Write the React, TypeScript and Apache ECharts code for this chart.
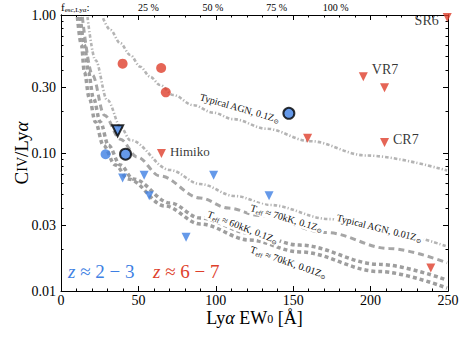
import React, { useEffect, useRef } from 'react';
import * as echarts from 'echarts';

// ---- axis ticks / labels ----
const xMajorTicks = [0, 50, 100, 150, 200, 250];
const yTickLabels = [0.01, 0.03, 0.1, 0.3, 1];
const yMinorTicks = [0.02, 0.04, 0.05, 0.06, 0.07, 0.08, 0.09, 0.2, 0.4, 0.5, 0.6, 0.7, 0.8, 0.9];
const fescLabels = ['25 %', '50 %', '75 %', '100 %'];
const fescEW = [56.5, 98.1, 139.3, 177.5];

// ---- z ~ 6-7 ----
const highzDet = [[39.8, 0.444], [64.7, 0.413], [67.7, 0.275]];
const highzLimNames = ['SR6', 'VR7', '', '', 'CR7', 'Himiko', ''];
const highzLim = [[249.5, 0.96], [195.3, 0.357], [209, 0.297], [159.3, 0.128], [209, 0.119], [64.9, 0.099], [238.9, 0.0147]];

// ---- z ~ 2-3 ----
const lowzDet = [[28.8, 0.098]];
const lowzDetOutlined = [[41.7, 0.098], [147.2, 0.194]];
const lowzLimOutlined = [[36.6, 0.145]];
const lowzLim = [[39.8, 0.066], [53.7, 0.069], [57, 0.049], [98.6, 0.069], [134.4, 0.049], [80.8, 0.0245]];

// ---- model curves ----
const agn01 = [[27.2, 0.946], [31.9, 0.779], [38.3, 0.624], [44.7, 0.513], [51.2, 0.422], [57.6, 0.357], [64.0, 0.311], [72.6, 0.263], [85.5, 0.222], [98.3, 0.196], [111.2, 0.176], [132.7, 0.150], [160.6, 0.122], [197.0, 0.096], [249.4, 0.0747]];
const agn001 = [[17.1, 0.967], [22.2, 0.472], [29.9, 0.242], [38.9, 0.152], [44.7, 0.124], [70.5, 0.0753], [89.8, 0.0596], [112.3, 0.0488], [134.8, 0.042], [173.4, 0.0332], [212.0, 0.0263], [249.4, 0.021]];
const t70z01 = [[13.8, 0.967], [20.3, 0.367], [28.0, 0.188], [38.3, 0.126], [49.2, 0.0935], [64.0, 0.0681], [89.8, 0.0472], [108.1, 0.0399], [128.4, 0.0352], [171.5, 0.0265], [212.0, 0.0203], [249.4, 0.016]];
const t60z01 = [[12.5, 0.967], [15.1, 0.606], [17.7, 0.386], [20.9, 0.25], [25.4, 0.168], [30.6, 0.114], [38.3, 0.0819], [46.7, 0.0648], [70.5, 0.0434], [89.8, 0.0338], [121.9, 0.0263], [154.1, 0.0215], [205.6, 0.0156], [249.4, 0.012]];
const t70z001 = [[10.6, 0.967], [13.2, 0.606], [15.1, 0.386], [18.3, 0.25], [22.2, 0.168], [27.3, 0.114], [35.1, 0.0819], [43.4, 0.0648], [67.2, 0.0413], [89.8, 0.0306], [121.9, 0.0234], [154.1, 0.0192], [205.6, 0.01384], [249.4, 0.0105]];

// ---- curve annotations (anchor in data coords, angle in degrees) ----
const curveNotes = [
  { text: '{t|Typical AGN, 0.1Z}{s|⊙}', at: [115.5, 0.212], angle: -16, bg: false },
  { text: '{t|Typical AGN, 0.01Z}{s|⊙}', at: [205.6, 0.0286], angle: -14, bg: true },
  { text: '{t|T}{s|eff}{t| ≈ 70kK, 0.1Z}{s|⊙}', at: [145.8, 0.0338], angle: -16.5, bg: true },
  { text: '{t|T}{s|eff}{t| ≈ 60kK, 0.1Z}{s|⊙}', at: [117.4, 0.0291], angle: -21, bg: true },
  { text: '{t|T}{s|eff}{t| ≈ 70kK, 0.01Z}{s|⊙}', at: [147.0, 0.0162], angle: -19, bg: false },
];

const RED = '#de3f2c';
const BLUE = '#3e7fe3';
const SERIF = '"Liberation Serif", "DejaVu Serif", serif';

export default function App() {
  const ref = useRef<HTMLDivElement>(null);
  useEffect(() => {
    if (!ref.current) return;
    const chart = echarts.init(ref.current, undefined, { renderer: 'svg' });
    const xAxisCommon = {
      type: 'value', min: 0, max: 250, interval: 50,
      axisLine: { show: true, onZero: false, lineStyle: { color: '#000', width: 1 } },
      axisTick: { show: true, inside: true, length: 5, lineStyle: { color: '#000' } },
      minorTick: { show: true, splitNumber: 5, length: 2.5, lineStyle: { color: '#000' } },
      splitLine: { show: false },
    };
    const yAxisCommon = {
      type: 'log', min: 0.01, max: 1, logBase: 10,
      axisLine: { show: true, onZero: false, lineStyle: { color: '#000', width: 1 } },
      splitLine: { show: false },
      minorTick: { show: false },
    };
    const lineSeries = (data: number[][], color: string, width: number, dash: number[]) => ({
      type: 'line', data, showSymbol: false, symbol: 'none', smooth: 0.35, smoothMonotone: 'x',
      lineStyle: { color, width, type: dash, cap: 'butt' }, silent: true, z: 1,
    });
    const option: any = {
      animation: false,
      grid: { left: 61, right: 21, top: 15, bottom: 51, containLabel: false, outerBoundsMode: 'none' },
      xAxis: [
        {
          ...xAxisCommon, position: 'bottom',
          axisLabel: { show: true, color: '#000', fontFamily: SERIF, fontSize: 14, margin: 3, lineHeight: 13 },
          name: '{n|Ly}{a|α}{n| EW}{sub|0}{n| [Å]}', nameLocation: 'middle', nameGap: 20,
          nameMoveOverlap: false,
          nameTextStyle: {
            verticalAlign: 'top',
            rich: {
              n: { fontFamily: SERIF, fontSize: 18, color: '#000', lineHeight: 14 },
              a: { fontFamily: SERIF, fontSize: 18, fontStyle: 'italic', color: '#000', lineHeight: 14 },
              sub: { fontFamily: SERIF, fontSize: 12, color: '#000', lineHeight: 14, verticalAlign: 'bottom' },
            },
          },
        },
        {
          ...xAxisCommon, position: 'top',
          axisTick: { show: true, inside: true, length: 5, customValues: xMajorTicks, lineStyle: { color: '#000' } },
          axisLabel: {
            show: true, color: '#000', fontFamily: SERIF, fontSize: 10, margin: 3,
            customValues: fescEW,
            formatter: (v: number) => {
              const i = fescEW.findIndex((e) => Math.abs(e - v) < 1e-6);
              return i >= 0 ? fescLabels[i] : '';
            },
          },
        },
      ],
      yAxis: [
        {
          ...yAxisCommon, position: 'left',
          axisTick: { show: true, inside: true, length: 5, customValues: yTickLabels, lineStyle: { color: '#000' } },
          axisLabel: {
            show: true, color: '#000', fontFamily: SERIF, fontSize: 14, margin: 5,
            customValues: yTickLabels, formatter: (v: number) => v.toFixed(2),
          },
          name: '{c|C}{iv|IV}{c|/Ly}{a|α}', nameLocation: 'middle', nameGap: 29,
          nameMoveOverlap: false,
          nameTextStyle: {
            rich: {
              c: { fontFamily: SERIF, fontSize: 19, color: '#000', lineHeight: 22 },
              iv: { fontFamily: SERIF, fontSize: 14, color: '#000', lineHeight: 16, padding: [3, 0, 0, 0] },
              a: { fontFamily: SERIF, fontSize: 19, fontStyle: 'italic', color: '#000', lineHeight: 22 },
            },
          },
        },
        {
          ...yAxisCommon, position: 'left',
          axisTick: { show: true, inside: true, length: 2.5, customValues: yMinorTicks, lineStyle: { color: '#000' } },
          axisLabel: { show: false },
        },
        {
          ...yAxisCommon, position: 'right',
          axisTick: { show: true, inside: true, length: 5, customValues: yTickLabels, lineStyle: { color: '#000' } },
          axisLabel: { show: false },
        },
        {
          ...yAxisCommon, position: 'right',
          axisTick: { show: true, inside: true, length: 2.5, customValues: yMinorTicks, lineStyle: { color: '#000' } },
          axisLabel: { show: false },
        },
      ],
      series: [
        lineSeries(agn01, '#b4b4b4', 2.6, [3.5, 2, 1.2, 2]),
        lineSeries(agn001, '#b4b4b4', 2.6, [3.5, 2, 1.2, 2]),
        lineSeries(t70z01, '#a6a6a6', 3, [6, 4]),
        lineSeries(t60z01, '#9e9e9e', 3.5, [4, 3]),
        lineSeries(t70z001, '#9e9e9e', 3.5, [4, 3]),
        {
          type: 'scatter', data: highzDet, symbol: 'circle', symbolSize: 10,
          itemStyle: { color: RED }, z: 5,
        },
        {
          type: 'scatter', symbol: 'triangle', symbolRotate: 180, symbolSize: 9,
          itemStyle: { color: RED }, z: 5, clip: true,
          data: highzLim.map((d, i) => {
            const name = highzLimNames[i];
            const item: any = { value: d, name };
            if (name) {
              const pos = name === 'SR6' ? 'left' : 'right';
              item.label = {
                show: true, formatter: name, position: pos, distance: 4,
                offset: name === 'VR7' ? [0, -7] : name === 'CR7' ? [0, -3] : name === 'SR6' ? [0, 3] : [0, -2],
                color: '#000', fontFamily: SERIF, fontSize: name === 'Himiko' ? 13 : 14,
              };
            }
            return item;
          }),
        },
        {
          type: 'scatter', data: lowzDet, symbol: 'circle', symbolSize: 10,
          itemStyle: { color: BLUE }, z: 5,
        },
        {
          type: 'scatter', data: lowzDetOutlined, symbol: 'circle', symbolSize: 11,
          itemStyle: { color: BLUE, borderColor: '#000', borderWidth: 2 }, z: 6,
        },
        {
          type: 'scatter', data: lowzLimOutlined, symbol: 'triangle', symbolRotate: 180, symbolSize: 11,
          itemStyle: { color: BLUE, borderColor: '#000', borderWidth: 2 }, z: 6,
        },
        {
          type: 'scatter', data: lowzLim, symbol: 'triangle', symbolRotate: 180, symbolSize: 9,
          itemStyle: { color: BLUE }, z: 5,
        },
      ],
    };
    chart.setOption(option);

    const noteRich = {
      t: { fontFamily: SERIF, fontSize: 10, fill: '#111', lineHeight: 12 },
      s: { fontFamily: SERIF, fontSize: 6.5, fill: '#111', lineHeight: 12, verticalAlign: 'bottom' },
    };
    const graphics: any[] = curveNotes.map((n) => {
      const p = chart.convertToPixel({ xAxisIndex: 0, yAxisIndex: 0 }, n.at as any) as number[];
      const style: any = { text: n.text, rich: noteRich, align: 'center', verticalAlign: 'middle' };
      if (n.bg) {
        style.backgroundColor = '#fff';
        style.padding = [0, 2];
      }
      return {
        type: 'text', x: p[0], y: p[1], rotation: (n.angle * Math.PI) / 180, z: 10,
        style,
      };
    });
    graphics.push({
      type: 'text', x: 61, y: 1, z: 10,
      style: {
        text: '{f|f}{s|esc,Lyα}{f|:}',
        rich: {
          f: { fontFamily: SERIF, fontSize: 11, fill: '#000', lineHeight: 12 },
          s: { fontFamily: SERIF, fontSize: 7, fill: '#000', lineHeight: 12, verticalAlign: 'bottom' },
        },
      },
    });
    graphics.push({
      type: 'text', x: 68, y: 262, z: 10,
      style: {
        text: '{i|z}{r| ≈ 2 − 3}',
        rich: {
          i: { fontFamily: SERIF, fontSize: 19, fontStyle: 'italic', fill: BLUE },
          r: { fontFamily: SERIF, fontSize: 19, fill: BLUE },
        },
      },
    });
    graphics.push({
      type: 'text', x: 153, y: 262, z: 10,
      style: {
        text: '{i|z}{r| ≈ 6 − 7}',
        rich: {
          i: { fontFamily: SERIF, fontSize: 19, fontStyle: 'italic', fill: RED },
          r: { fontFamily: SERIF, fontSize: 19, fill: RED },
        },
      },
    });
    chart.setOption({ graphic: graphics });

    return () => chart.dispose();
  }, []);
  return (
    <div
      ref={ref}
      style={{ position: 'fixed', left: 0, top: 0, width: 469, height: 342, background: '#fff' }}
    />
  );
}
